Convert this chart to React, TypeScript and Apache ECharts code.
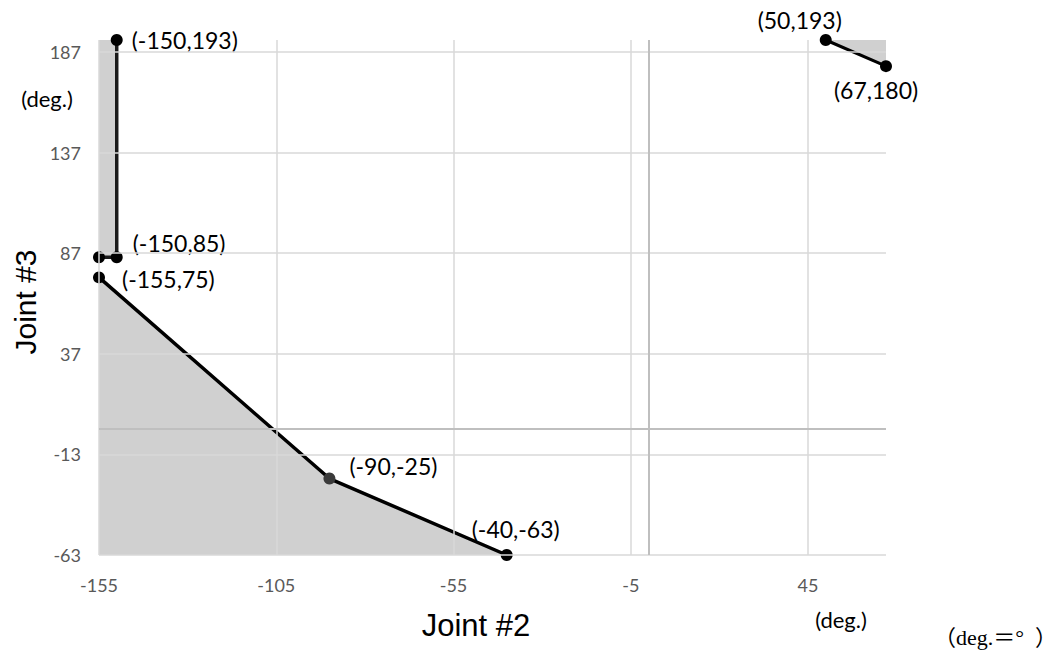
import React, { useEffect, useRef } from "react";
import * as echarts from "echarts";

// Tick values
const xTicks = [-155, -105, -55, -5, 45];
const yTicks = [-63, -13, 37, 87, 137, 187];

// Series points [Joint #2, Joint #3]
const upperLeft = [
  [-150, 193],
  [-150, 85],
  [-155, 85],
];
const lowerLeft = [
  [-155, 75],
  [-90, -25],
  [-40, -63],
];
const upperRight = [
  [50, 193],
  [67, 180],
];
// shaded strip between -155 and -150, from 85 to 193
const strip = [
  [-155, 85],
  [-150, 193],
];

const FILL = "rgba(100,100,100,0.3)";
const LABEL_FONT = "Lato, 'Noto Sans', sans-serif";

export default function App() {
  const ref = useRef<HTMLDivElement>(null);
  useEffect(() => {
    if (!ref.current) return;
    const chart = echarts.init(ref.current, null, { renderer: "svg" });

    const lbl = (text: string, position: any, offset: number[] = [0, 0]) => ({
      show: true,
      formatter: text,
      position,
      offset,
      color: "#000",
      fontSize: 23,
      fontFamily: LABEL_FONT,
    });

    const gridLines = [
      ...xTicks.map((v) => ({ xAxis: v })),
      ...yTicks.map((v) => ({ yAxis: v })),
    ];

    chart.setOption({
      animation: false,
      backgroundColor: "#fff",
      grid: { left: 99, right: 175, top: 40, bottom: 98, containLabel: false },
      xAxis: {
        type: "value",
        min: -155,
        max: 67,
        axisLine: { show: false },
        axisTick: { show: false },
        splitLine: { show: false },
        axisLabel: {
          customValues: xTicks,
          color: "#595959",
          fontSize: 18,
          fontFamily: LABEL_FONT,
          margin: 21,
        },
      },
      yAxis: {
        type: "value",
        min: -63,
        max: 193,
        axisLine: { show: false },
        axisTick: { show: false },
        splitLine: { show: false },
        axisLabel: {
          customValues: yTicks,
          color: "#595959",
          fontSize: 18,
          fontFamily: LABEL_FONT,
          margin: 18,
        },
      },
      series: [
        {
          type: "line",
          data: [],
          z: 1,
          silent: true,
          markLine: {
            silent: true,
            symbol: "none",
            label: { show: false },
            lineStyle: { color: "#d9d9d9", width: 1.5, type: "solid" },
            data: [
              ...gridLines,
              { xAxis: 0, lineStyle: { color: "#bfbfbf", width: 2 } },
              { yAxis: 0, lineStyle: { color: "#bfbfbf", width: 2 } },
            ],
          },
          markArea: {
            silent: true,
            itemStyle: { color: FILL, opacity: 1 },
            data: [
              [
                { xAxis: strip[0][0], yAxis: strip[0][1] },
                { xAxis: strip[1][0], yAxis: strip[1][1] },
              ],
            ],
          },
        },
        {
          type: "line",
          z: 3,
          data: upperLeft.map((p, i) => ({
            value: p,
            label:
              i === 0
                ? lbl("(-150,193)", "right", [4, 0])
                : i === 1
                ? lbl("(-150,85)", "right", [5, -14])
                : { show: false },
          })),
          symbol: "circle",
          symbolSize: 12,
          itemStyle: { color: "#000" },
          lineStyle: { color: "#1a1a1a", width: 3.5 },
        },
        {
          type: "line",
          z: 3,
          data: lowerLeft.map((p, i) => ({
            value: p,
            itemStyle: i === 1 ? { color: "#3a3a3a" } : undefined,
            label:
              i === 0
                ? lbl("(-155,75)", "right", [12, 2])
                : i === 1
                ? lbl("(-90,-25)", "right", [9, -13])
                : lbl("(-40,-63)", "top", [9, -4]),
          })),
          symbol: "circle",
          symbolSize: 12,
          itemStyle: { color: "#000" },
          lineStyle: { color: "#000", width: 3.5 },
          areaStyle: { color: FILL, opacity: 1, origin: "start" },
        },
        {
          type: "line",
          z: 3,
          data: upperRight.map((p, i) => ({
            value: p,
            label:
              i === 0
                ? lbl("(50,193)", "top", [-26, 2])
                : lbl("(67,180)", "bottom", [-10, 1]),
          })),
          symbol: "circle",
          symbolSize: 12,
          itemStyle: { color: "#000" },
          lineStyle: { color: "#000", width: 3 },
          areaStyle: { color: FILL, opacity: 1, origin: "end" },
        },
      ],
      graphic: [
        {
          type: "text",
          x: 25,
          y: 302,
          rotation: Math.PI / 2,
          style: {
            text: "Joint #3",
            fontSize: 30,
            fontFamily: "'Liberation Sans', Arial, sans-serif",
            fill: "#000",
            align: "center",
            verticalAlign: "middle",
          },
        },
        {
          type: "text",
          x: 47,
          y: 98,
          style: {
            text: "(deg.)",
            fontSize: 22,
            fontFamily: LABEL_FONT,
            fill: "#000",
            align: "center",
            verticalAlign: "middle",
          },
        },
        {
          type: "text",
          x: 476,
          y: 625,
          style: {
            text: "Joint #2",
            fontSize: 31,
            fontFamily: "'Liberation Sans', Arial, sans-serif",
            fill: "#000",
            align: "center",
            verticalAlign: "middle",
          },
        },
        {
          type: "text",
          x: 841,
          y: 619,
          style: {
            text: "(deg.)",
            fontSize: 22,
            fontFamily: LABEL_FONT,
            fill: "#000",
            align: "center",
            verticalAlign: "middle",
          },
        },
        {
          type: "text",
          x: 934,
          y: 637,
          style: {
            text: "（deg.＝°  ）",
            fontSize: 22,
            fontFamily: "'Liberation Serif', 'Noto Sans CJK JP', serif",
            fill: "#000",
            align: "left",
            verticalAlign: "middle",
          },
        },
      ],
    });
    return () => chart.dispose();
  }, []);
  return (
    <div
      ref={ref}
      style={{ position: "absolute", left: 0, top: 0, width: 1061, height: 653 }}
    />
  );
}
